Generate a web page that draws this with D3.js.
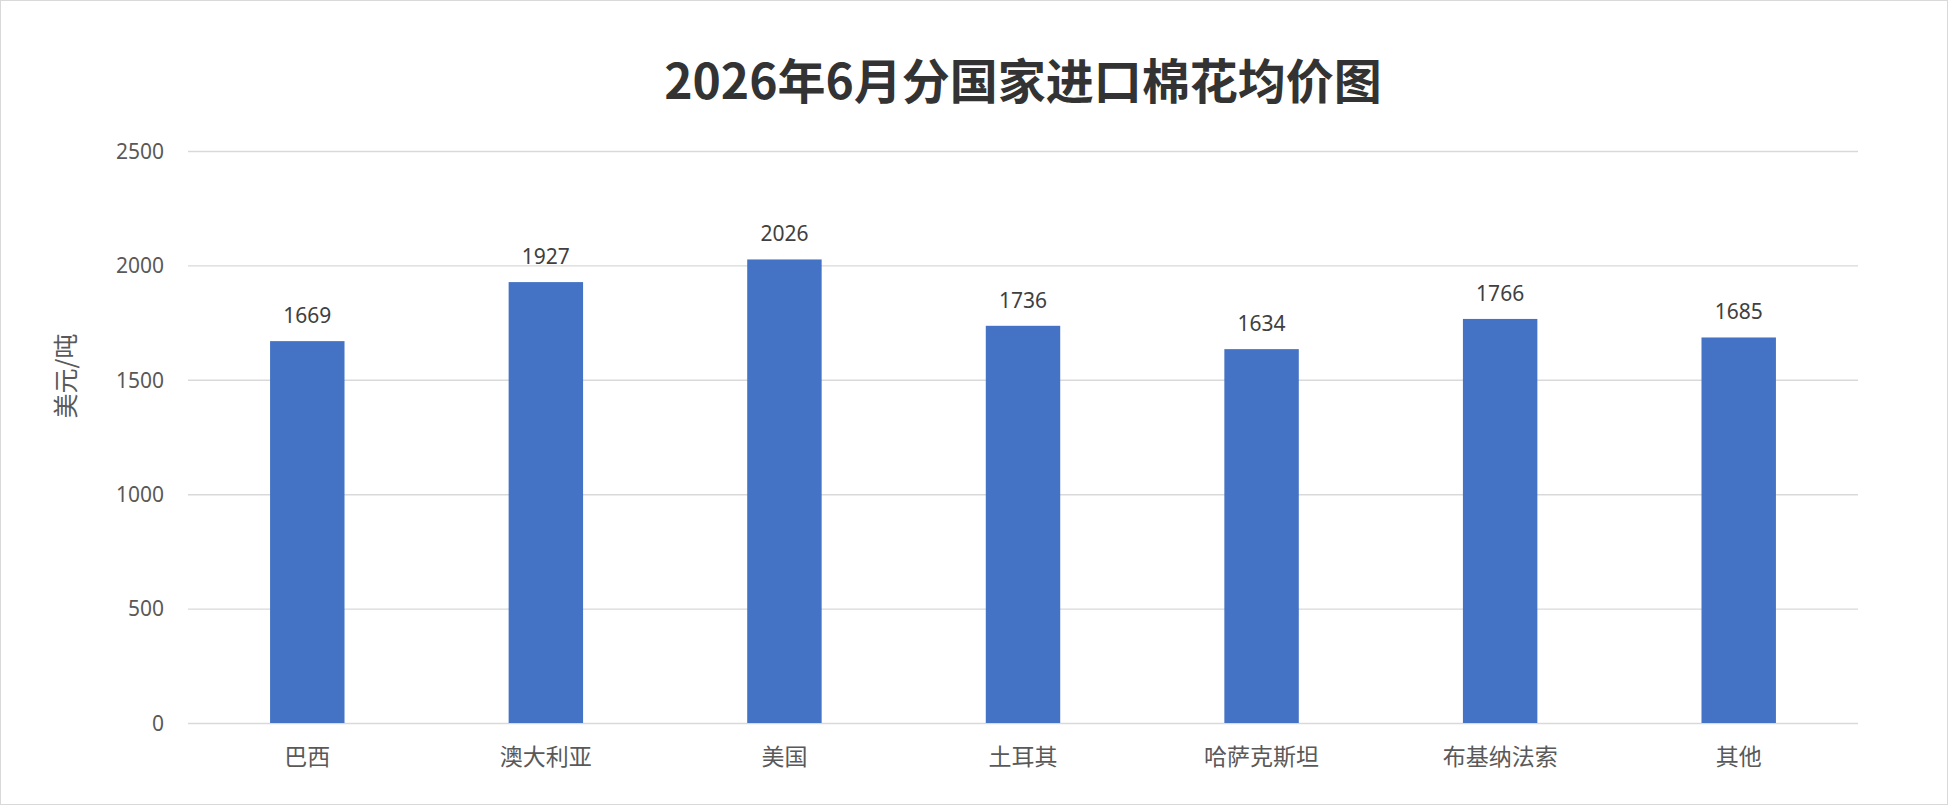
<!DOCTYPE html>
<html>
<head>
<meta charset="utf-8">
<script src="https://cdn.jsdelivr.net/npm/d3@7"></script>
<style>
  body { margin: 0; background: #fff; }
  svg { display: block; }
</style>
</head>
<body>
<svg width="1948" height="805"></svg>
<script>
// chart data
var countries = ['巴西', '澳大利亚', '美国', '土耳其', '哈萨克斯坦', '布基纳法索', '其他'];
var prices = [1669, 1927, 2026, 1736, 1634, 1766, 1685];
var yTicks = [0, 500, 1000, 1500, 2000, 2500];

var drawBarChart = function () {
    let svg = d3.select('svg');
    let width = 1948, height = 805;
    let margin = { top: 151, right: 90, bottom: 82, left: 188 };
    let plotWidth = width - margin.left - margin.right;
    let plotHeight = height - margin.top - margin.bottom;

    // outer frame
    svg.append('rect')
        .attr('x', 0.5).attr('y', 0.5)
        .attr('width', width - 1).attr('height', height - 1)
        .attr('fill', '#fff')
        .attr('stroke', '#d9d9d9');

    let plot = svg.append('g')
        .attr('id', 'plot')
        .attr('transform', 'translate(' + margin.left + ',' + margin.top + ')');

    let xScale = d3.scaleBand()
        .domain(countries)
        .range([0, plotWidth])
        .padding(0);

    let yScale = d3.scaleLinear()
        .domain([0, 2500])
        .range([plotHeight, 0]);

    // gridlines + y labels
    let yAxis = d3.axisLeft(yScale)
        .tickValues(yTicks)
        .tickSize(-plotWidth)
        .tickPadding(24)
        .tickFormat(d3.format('d'));
    let yGroup = plot.append('g').attr('id', 'y-axis').call(yAxis);
    yGroup.select('.domain').remove();
    yGroup.selectAll('line')
        .attr('stroke', '#d9d9d9')
        .attr('stroke-width', 1.4);
    yGroup.selectAll('text')
        .attr('fill', '#595959')
        .attr('dy', '0.35em')
        .style('font-family', '"Noto Sans", sans-serif')
        .style('font-size', '21px');

    // x labels
    let xAxis = d3.axisBottom(xScale).tickSize(0).tickPadding(0);
    let xGroup = plot.append('g')
        .attr('id', 'x-axis')
        .attr('transform', 'translate(0,' + plotHeight + ')')
        .call(xAxis);
    xGroup.select('.domain').remove();
    xGroup.selectAll('text')
        .attr('y', 34)
        .attr('dy', '0.35em')
        .attr('fill', '#595959')
        .style('font-family', '"Noto Sans CJK SC", sans-serif')
        .style('font-size', '23px');

    let barWidth = xScale.bandwidth() * 0.312;

    plot.append('g').selectAll('rect.bar')
        .data(countries)
        .enter()
        .append('rect')
        .attr('class', 'bar')
        .attr('x', function (d) { return xScale(d) + (xScale.bandwidth() - barWidth) / 2; })
        .attr('y', function (d, i) { return yScale(prices[i]); })
        .attr('width', barWidth)
        .attr('height', function (d, i) { return plotHeight - yScale(prices[i]); })
        .attr('fill', '#4472c4');

    plot.append('g').selectAll('text.details')
        .data(countries)
        .enter()
        .append('text')
        .attr('class', 'details')
        .attr('x', function (d) { return xScale(d) + xScale.bandwidth() / 2; })
        .attr('y', function (d, i) { return yScale(prices[i]) - 18; })
        .attr('text-anchor', 'middle')
        .attr('fill', '#404040')
        .style('font-family', '"Noto Sans", sans-serif')
        .style('font-size', '21px')
        .text(function (d, i) { return prices[i]; });

    // y axis title
    svg.append('text')
        .attr('transform', 'translate(66,' + 376 + ')rotate(-90)')
        .attr('text-anchor', 'middle')
        .attr('dy', '0.35em')
        .attr('fill', '#595959')
        .style('font-family', '"Noto Sans CJK SC", sans-serif')
        .style('font-size', '25px')
        .text('美元/吨');

    // chart title
    svg.append('text')
        .attr('x', margin.left + plotWidth / 2)
        .attr('y', 99)
        .attr('text-anchor', 'middle')
        .attr('fill', '#333333')
        .style('font-family', '"Noto Sans CJK SC", sans-serif')
        .style('font-weight', 'bold')
        .style('font-size', '48px')
        .text('2026年6月分国家进口棉花均价图');
};

drawBarChart();
</script>
</body>
</html>
